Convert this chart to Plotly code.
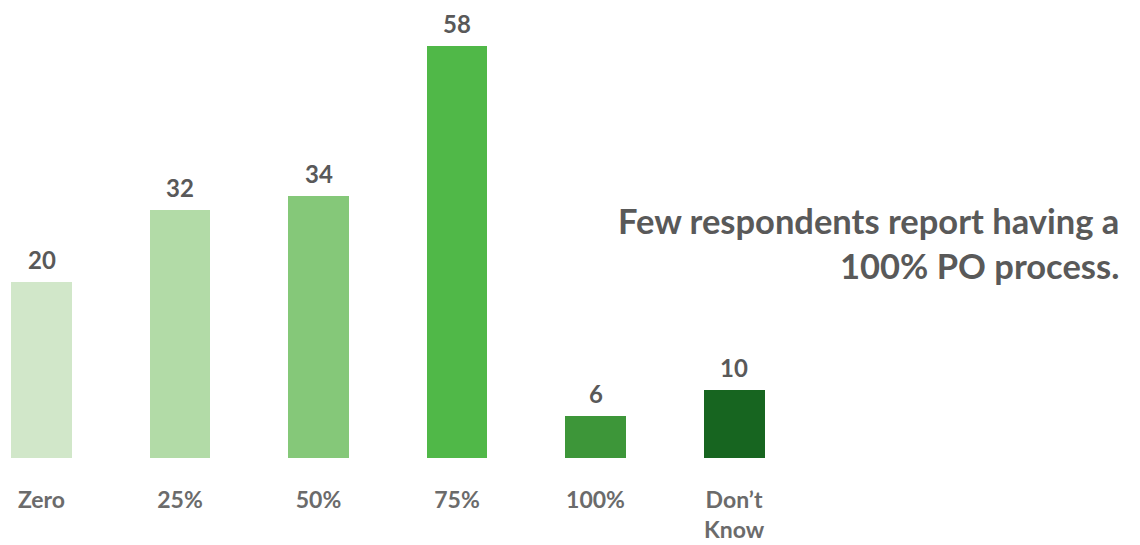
import plotly.graph_objects as go

categories = ["Zero", "25%", "50%", "75%", "100%", "Don’t<br>Know"]
# bar lengths as drawn in the picture (scaled so the tallest bar reads 58)
heights = [24.8, 34.9, 36.9, 58.0, 5.9, 9.6]
labels = ["20", "32", "34", "58", "6", "10"]
colors = ["#D1E7C9", "#B2DBA7", "#85C879", "#50B848", "#3D9639", "#176520"]
note_lines = ["Few respondents report having a", "100% PO process."]

x_idx = list(range(len(categories)))

fig = go.Figure()
fig.add_trace(go.Bar(
    x=x_idx, y=heights, width=0.44,
    marker=dict(color=colors, line=dict(width=0)),
    hoverinfo="skip",
))

for xi, h, lab in zip(x_idx, heights, labels):
    fig.add_annotation(
        x=xi, y=h, xref="x", yref="y", text="<b>" + lab + "</b>",
        showarrow=False, xanchor="center", yanchor="bottom", yshift=6,
        font=dict(family="Lato", size=24, color="#595959"),
    )

fig.add_annotation(
    text="<br>".join("<b>" + s + "</b>" for s in note_lines),
    xref="paper", yref="paper", x=0.9835, y=0.47,
    xanchor="right", yanchor="middle", align="right", showarrow=False,
    font=dict(family="Lato", size=34.5, color="#595959"),
)

fig.update_layout(
    width=1140, height=545,
    margin=dict(l=0, r=0, t=0, b=87),
    plot_bgcolor="white", paper_bgcolor="white",
    showlegend=False,
    xaxis=dict(
        range=[-0.2996, 7.931], tickvals=x_idx,
        ticktext=["<b>" + c.replace("<br>", "</b><br><b>") + "</b>" for c in categories],
        showgrid=False, zeroline=False, showline=False,
        ticks="outside", ticklen=21, tickcolor="rgba(0,0,0,0)",
        tickfont=dict(family="Lato", size=23, color="#6B6B6B"),
    ),
    yaxis=dict(range=[0, 64.48], visible=False, showgrid=False, zeroline=False),
    bargap=0,
)

fig.write_html("out.html")
